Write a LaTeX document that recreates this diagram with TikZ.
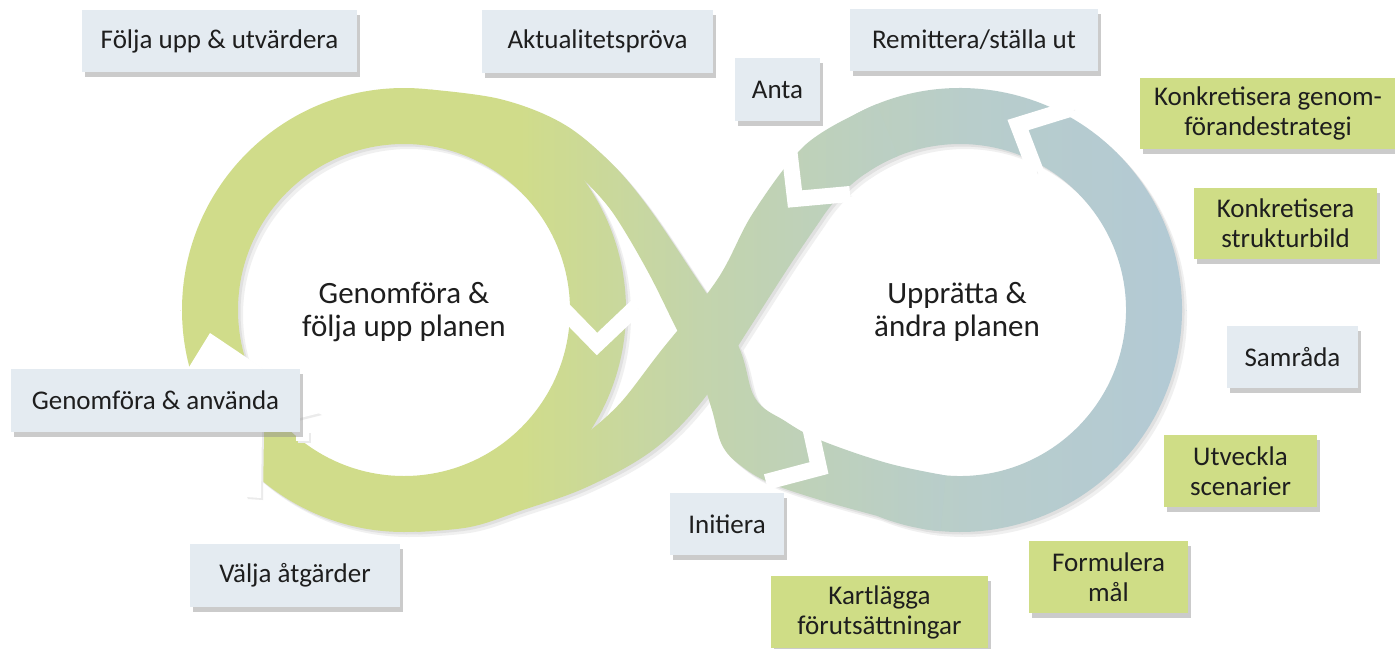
\documentclass[tikz,border=0pt]{standalone}
\usepackage{tikz}
\usepackage{fontspec}
\setmainfont{Carlito}
\usetikzlibrary{shadows}

\definecolor{loopgreen}{RGB}{208,220,138}
\definecolor{loopmid}{RGB}{195,212,172}
\definecolor{looplight}{RGB}{184,205,203}
\definecolor{loopblue}{RGB}{178,201,214}
\definecolor{boxgrey}{RGB}{228,235,241}
\definecolor{boxgreen}{RGB}{207,221,134}
\definecolor{textdark}{RGB}{30,30,30}

\pgfdeclarehorizontalshading{loopfade}{100bp}{color(0bp)=(loopgreen); color(41.9bp)=(loopgreen); color(50.8bp)=(loopmid); color(63.3bp)=(looplight); color(75bp)=(loopblue); color(100bp)=(loopblue)}

\newcommand{\boxfont}{\fontsize{27}{30}\selectfont}
\newcommand{\centrefont}{\fontsize{31}{33}\selectfont}

% pieces of the loop, in pixel units
\newcommand{\spanbox}{(180,310) -- (180.5,310) (1186,310) -- (1186.5,310)}
\newcommand{\leftring}{(lc) circle[radius=222] (lc) circle[radius=166]}
\newcommand{\rightring}{([shift={(-125:222)}]rc) arc[start angle=-125, end angle=100, radius=222]
  -- ([shift={(100:166)}]rc) arc[start angle=100, end angle=-125, radius=166] -- cycle}
\newcommand{\upband}{plot[smooth, tension=.6] coordinates {(415,532) (470,527) (520,511) (587,487) (653,450) (703,400) (745,335) (790,265) (819.8,221.1)}
  arc[start angle=-147.6, end angle=-112, radius=166]
  -- ([shift={(-112:222)}]rc) arc[start angle=-112, end angle=-119, radius=222]
  -- plot[smooth, tension=.6] coordinates {(852.4,115.8) (803,147) (753,213) (717,280) (660,352) (623,400) (597,425)}
  -- (540,470) -- (470,510) -- cycle}
\newcommand{\downband}{plot[smooth, tension=.6] coordinates {(430,89.5) (500,99) (560,122) (605,157) (643,200) (689,267) (737,343) (755,398) (785,421) (820,440) (887,463) (945.5,475.4)}
  -- ([shift={(95:222)}]rc) arc[start angle=95, end angle=112, radius=222]
  -- plot[smooth, tension=.6] coordinates {(876.8,515.8) (820,500) (770,483) (740,465) (722,445) (712,410) (700,375) (677,330) (647,270) (613,213) (587,183)}
  -- (540,140) -- (470,104) -- cycle}

\tikzset{
  taskbox/.style={fill=boxgrey, text=textdark, font=\boxfont, align=center, inner sep=0pt,
    drop shadow={shadow xshift=3pt, shadow yshift=-5pt, fill=black!45, opacity=.45}},
  greenbox/.style={taskbox, fill=boxgreen},
  centretext/.style={font=\centrefont, align=center, text=textdark, inner sep=0pt},
  chevron/.style={draw=white, line width=16pt, line join=miter, line cap=butt,
    preaction={draw=black!8, transform canvas={shift={(2,2)}}}},
  cutout/.style={fill=white, preaction={fill=black!8, transform canvas={shift={(2,2)}}}}
}

\begin{document}
\begin{tikzpicture}[x=1pt, y=-1pt]
  \useasboundingbox (0,0) rectangle (1395,648);
  \fill[white] (0,0) rectangle (1395,648);
  \coordinate (lc) at (404,310);
  \coordinate (rc) at (960,310);

  % soft shadow under the loop
  \foreach \off/\shd in {5/black!6, 2.5/black!12} {
    \begin{scope}[transform canvas={shift={(\off,\off)}}]
      \fill[\shd, even odd rule] \leftring;
      \fill[\shd] \rightring;
      \fill[\shd] \upband;
      \fill[\shd] \downband;
    \end{scope}
  }

  % the loop itself
  \shade[shading=loopfade, even odd rule] \leftring \spanbox;
  \shade[shading=loopfade] \rightring \spanbox;
  \shade[shading=loopfade] \upband \spanbox;
  \shade[shading=loopfade] \downband \spanbox;

  % white arrow heads on the loop
  \draw[chevron] (559,305) -- (597,344) -- (636,307);
  \draw[chevron] (789,148) -- (795,199) -- (850,194);
  \draw[chevron] (1073,108) -- (1018,125) -- (1036,172);
  \draw[chevron] (807,413) -- (819,468) -- (766,482);
  \fill[cutout] (210,333) -- (186,372) -- (268,372) -- cycle;
  \fill[cutout] (296,401) -- (320,413) -- (296,419) -- cycle;
  \fill[cutout] (296,431) -- (309,431) -- (309,441) -- (296,441) -- cycle;
  \fill[cutout] (216,430) -- (262,430) -- (261,498) -- (246,497) -- cycle;

  % centre texts
  \node[centretext] (genomfora) at (404,312) {Genomföra \&\\följa upp planen};
  \node[centretext] (uppratta) at (957,312) {Upprätta \&\\ändra planen};

  % steps
  \node[taskbox, minimum width=275, minimum height=62] (foljaupp) at (219.5,41) {Följa upp \& utvärdera};
  \node[taskbox, minimum width=231, minimum height=63] (aktual) at (597.5,41.5) {Aktualitetspröva};
  \node[taskbox, minimum width=248, minimum height=62] (remittera) at (974,40) {Remittera/ställa ut};
  \node[taskbox, minimum width=85, minimum height=63] (anta) at (777.5,89.5) {Anta};
  \node[greenbox, minimum width=256, minimum height=71] (strategi) at (1268,113.5) {Konkretisera genom-\\förandestrategi};
  \node[greenbox, minimum width=183, minimum height=71] (strukturbild) at (1285.5,223.5) {Konkretisera\\strukturbild};
  \node[taskbox, minimum width=131, minimum height=62] (samrada) at (1292.5,357) {Samråda};
  \node[greenbox, minimum width=153, minimum height=72] (utveckla) at (1240.5,471) {Utveckla\\scenarier};
  \node[greenbox, minimum width=159, minimum height=72] (formulera) at (1108.5,577) {Formulera\\mål};
  \node[greenbox, minimum width=217, minimum height=72] (kartlagga) at (879.5,612) {Kartlägga\\förutsättningar};
  \node[taskbox, minimum width=114, minimum height=62] (initiera) at (727,524) {Initiera};
  \node[taskbox, minimum width=210, minimum height=63] (valja) at (295,575.5) {Välja åtgärder};
  \node[taskbox, minimum width=289, minimum height=63] (anvanda) at (155.5,400.5) {Genomföra \& använda};
\end{tikzpicture}
\end{document}
